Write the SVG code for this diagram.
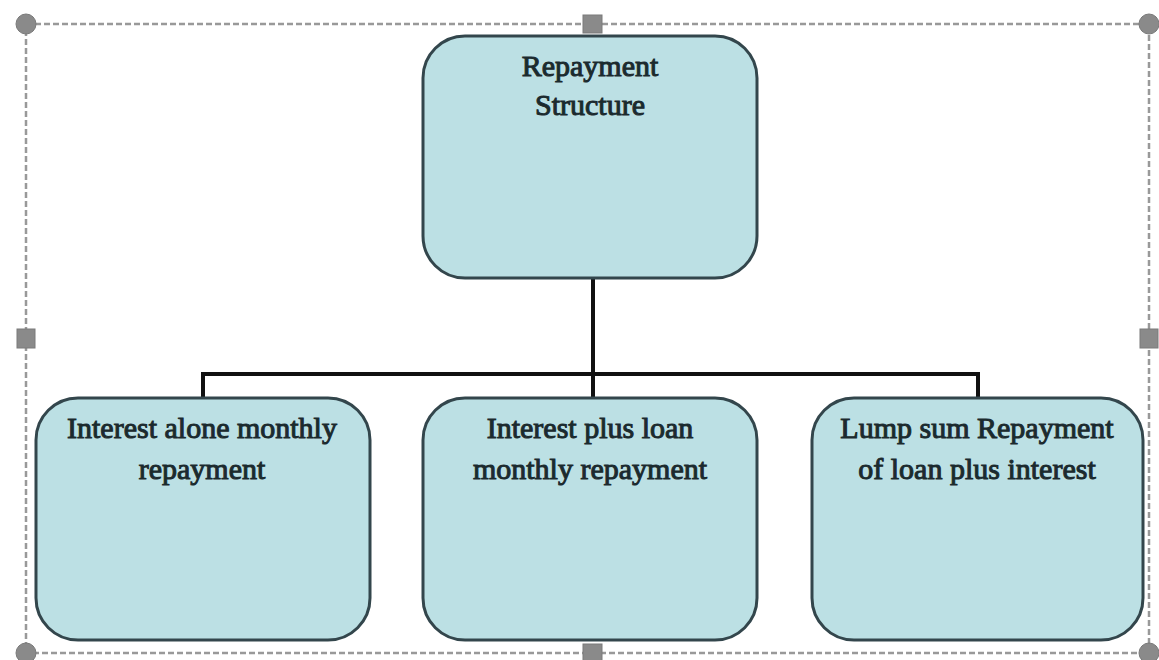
<svg xmlns="http://www.w3.org/2000/svg" width="1159" height="660" viewBox="0 0 1159 660">
<style>
.frame{fill:none;stroke:#999999;stroke-width:2.5;stroke-dasharray:6 3}
.handle{fill:#8a8a8a;stroke:#7a7a7a;stroke-width:1}
.box{fill:#bce0e4;stroke:#33464c;stroke-width:3}
.lbl{font-family:"Liberation Serif","Times New Roman",serif;font-size:30px;fill:#1b2a2e;stroke:#1b2a2e;stroke-width:1;text-anchor:middle}
.conn{fill:none;stroke:#111;stroke-width:4}
</style>
<rect width="1159" height="660" fill="#ffffff"/>
<g id="selection-frame">
<rect class="frame" x="26" y="24" width="1123" height="629"/>
<circle class="handle" cx="26" cy="24" r="10"/>
<circle class="handle" cx="1149" cy="24" r="10"/>
<circle class="handle" cx="26" cy="653" r="10"/>
<circle class="handle" cx="1149" cy="653" r="10"/>
<rect class="handle" x="583" y="15" width="19" height="18"/>
<rect class="handle" x="17" y="329" width="18" height="19"/>
<rect class="handle" x="1140" y="329" width="18" height="19"/>
<rect class="handle" x="583" y="644" width="19" height="18"/>
</g>
<g id="connectors">
<path class="conn" d="M593 278 V374 M203 398 V374 H978 V398 M593 374 V398"/>
</g>
<g id="node-root">
<rect class="box" x="423" y="36" width="334" height="242" rx="42"/>
<text class="lbl" x="590" y="76">Repayment</text>
<text class="lbl" x="590" y="115">Structure</text>
</g>
<g id="node-interest-alone">
<rect class="box" x="36" y="398" width="334" height="242" rx="42"/>
<text class="lbl" x="202" y="438">Interest alone monthly</text>
<text class="lbl" x="202" y="479">repayment</text>
</g>
<g id="node-interest-plus-loan">
<rect class="box" x="423" y="398" width="334" height="242" rx="42"/>
<text class="lbl" x="590" y="438">Interest plus loan</text>
<text class="lbl" x="590" y="479">monthly repayment</text>
</g>
<g id="node-lump-sum">
<rect class="box" x="812" y="398" width="331" height="242" rx="42"/>
<text class="lbl" x="977" y="438">Lump sum Repayment</text>
<text class="lbl" x="977" y="479">of loan plus interest</text>
</g>
</svg>
